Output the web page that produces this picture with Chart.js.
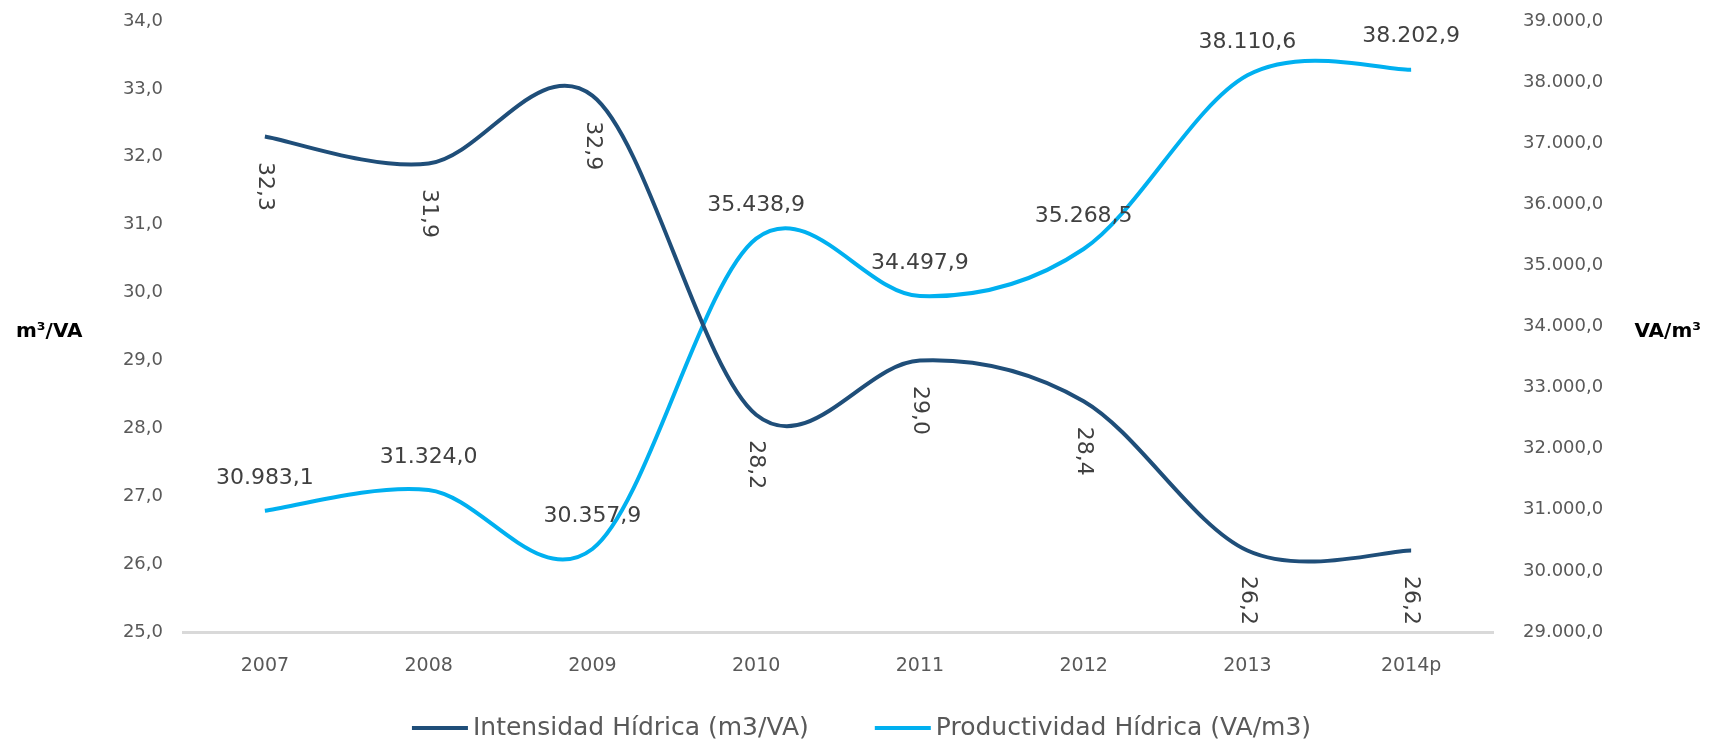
<!DOCTYPE html>
<html><head><meta charset="utf-8">
<script src="https://cdn.jsdelivr.net/npm/chart.js@4.4.0/dist/chart.umd.min.js"></script>
<style>html,body{margin:0;padding:0;background:#fff;overflow:hidden}#wrap{width:1723px;height:742px;position:relative}</style>
</head><body><div id="wrap"><canvas id="c"></canvas></div>
<script>
const categories = ['2007','2008','2009','2010','2011','2012','2013','2014p'];
const intensidad = [32.3, 31.9, 32.9, 28.2, 29.0, 28.4, 26.2, 26.2];
const productividad = [30983.1, 31324.0, 30357.9, 35438.9, 34497.9, 35268.5, 38110.6, 38202.9];
const seriesNames = ['Intensidad Hídrica (m3/VA)', 'Productividad Hídrica (VA/m3)'];
const leftAxisTicks = [25, 26, 27, 28, 29, 30, 31, 32, 33, 34];
const rightAxisTicks = [29000, 30000, 31000, 32000, 33000, 34000, 35000, 36000, 37000, 38000, 39000];
const axisTitles = ['m³/VA', 'VA/m³'];

const FONT = '"DejaVu Sans"';
function fmt(v, dec) {
  const s = Math.abs(v).toFixed(dec);
  const parts = s.split('.');
  const ig = parts[0].replace(/\B(?=(\d{3})+(?!\d))/g, '.');
  return (v < 0 ? '-' : '') + ig + (parts[1] !== undefined ? ',' + parts[1] : '');
}

// Excel-like smoothing: uniform Catmull-Rom control points from the library's own point positions
const smoothPlugin = {
  id: 'excelSmooth',
  beforeDatasetsDraw(chart) {
    chart.data.datasets.forEach((ds, di) => {
      const meta = chart.getDatasetMeta(di);
      const pts = meta.data;
      const line = meta.dataset;
      if (line && line.updateControlPoints) line.updateControlPoints(chart.chartArea, 'x');
      for (let i = 0; i < pts.length; i++) {
        const p = pts[i];
        const prev = pts[Math.max(i - 1, 0)];
        const next = pts[Math.min(i + 1, pts.length - 1)];
        const dx = (next.x - prev.x) / 6, dy = (next.y - prev.y) / 6;
        p.cp1x = p.x - dx; p.cp1y = p.y - dy;
        p.cp2x = p.x + dx; p.cp2y = p.y + dy;
      }
    });
  }
};

const labelPlugin = {
  id: 'valueLabels',
  afterDatasetsDraw(chart) {
    const ctx = chart.ctx;
    chart.data.datasets.forEach((ds, di) => {
      const meta = chart.getDatasetMeta(di);
      meta.data.forEach((pt, i) => {
        const txt = fmt(ds.data[i], 1);
        ctx.save();
        ctx.fillStyle = '#404040';
        ctx.font = '22px ' + FONT;
        ctx.textAlign = 'center';
        ctx.textBaseline = 'middle';
        if (di === 0) {
          ctx.translate(pt.x, pt.y + 50);
          ctx.rotate(Math.PI / 2);
          ctx.fillText(txt, 0, 0);
        } else {
          ctx.fillText(txt, pt.x, pt.y - 33);
        }
        ctx.restore();
      });
    });
  }
};

const titlePlugin = {
  id: 'axisTitlesAndLegend',
  afterDraw(chart) {
    const ctx = chart.ctx;
    const a = chart.chartArea;
    const cy = (a.top + a.bottom) / 2 + 5;
    ctx.save();
    ctx.fillStyle = '#000';
    ctx.font = 'bold 20px ' + FONT;
    ctx.textBaseline = 'middle';
    ctx.textAlign = 'left';
    ctx.fillText(axisTitles[0], 16, cy);
    ctx.textAlign = 'right';
    ctx.fillText(axisTitles[1], chart.width - 22, cy);

    // legend
    ctx.font = '25px ' + FONT;
    const sample = 56, gapText = 5, gapItems = 66;
    const items = chart.data.datasets.map(ds => ({ text: ds.label, color: ds.borderColor, w: ctx.measureText(ds.label).width, lw: ds.borderWidth }));
    let total = 0;
    items.forEach((it, i) => { total += sample + gapText + it.w + (i ? gapItems : 0); });
    let x = chart.width / 2 - total / 2;
    const ly = a.bottom + 96;
    items.forEach(it => {
      ctx.strokeStyle = it.color;
      ctx.lineWidth = it.lw;
      ctx.beginPath();
      ctx.moveTo(x, ly);
      ctx.lineTo(x + sample, ly);
      ctx.stroke();
      x += sample + gapText;
      ctx.fillStyle = '#595959';
      ctx.textAlign = 'left';
      ctx.fillText(it.text, x, ly);
      x += it.w + gapItems;
    });
    ctx.restore();
  }
};

function fixY(w) {
  return function (s) { s.width = w; s.paddingTop = 0; s.paddingBottom = 0; };
}

new Chart(document.getElementById('c'), {
  type: 'line',
  data: {
    labels: categories,
    datasets: [
      { label: seriesNames[0], data: intensidad, yAxisID: 'y', borderColor: '#1F4E79', backgroundColor: '#1F4E79',
        borderWidth: 4, pointRadius: 0, tension: 0.4, fill: false },
      { label: seriesNames[1], data: productividad, yAxisID: 'y2', borderColor: '#00B0F0', backgroundColor: '#00B0F0',
        borderWidth: 4, pointRadius: 0, tension: 0.4, fill: false }
    ]
  },
  options: {
    responsive: true,
    maintainAspectRatio: false,
    animation: false,
    devicePixelRatio: 1,
    layout: { padding: { top: 21, bottom: 50, left: 0, right: 0 } },
    plugins: {
      legend: { display: false },
      tooltip: { enabled: false }
    },
    scales: {
      x: {
        type: 'category', offset: true,
        grid: { display: false, drawTicks: false },
        border: { display: true, color: '#d9d9d9', width: 3 },
        ticks: { color: '#595959', font: { family: FONT, size: 19 }, padding: 23, maxRotation: 0 },
        afterFit(s) { s.height = 60; }
      },
      y: {
        position: 'left', min: leftAxisTicks[0], max: leftAxisTicks[leftAxisTicks.length - 1],
        grid: { display: false, drawTicks: false },
        border: { display: false },
        afterBuildTicks(s) { s.ticks = leftAxisTicks.map(v => ({ value: v })); },
        ticks: { color: '#595959', font: { family: FONT, size: 18 }, padding: 20, callback: v => fmt(v, 1) },
        afterFit: fixY(183)
      },
      y2: {
        position: 'right', min: rightAxisTicks[0], max: rightAxisTicks[rightAxisTicks.length - 1],
        grid: { display: false, drawTicks: false },
        border: { display: false },
        afterBuildTicks(s) { s.ticks = rightAxisTicks.map(v => ({ value: v })); },
        ticks: { color: '#595959', font: { family: FONT, size: 18 }, padding: 30, callback: v => fmt(v, 1) },
        afterFit: fixY(230)
      }
    }
  },
  plugins: [smoothPlugin, labelPlugin, titlePlugin]
});
</script>
</body></html>
